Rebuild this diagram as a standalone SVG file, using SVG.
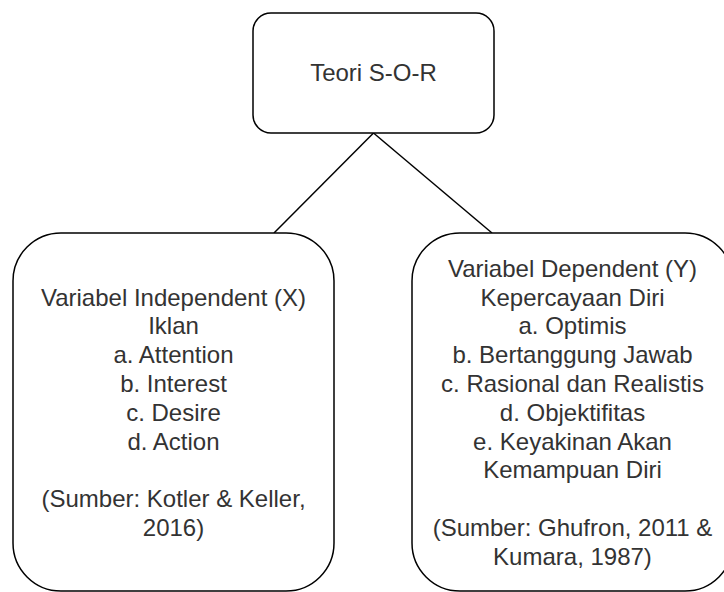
<svg xmlns="http://www.w3.org/2000/svg" width="724" height="592" viewBox="0 0 724 592">
<style>
.box{fill:#fff;stroke:#000;stroke-width:1.5}
.edge{fill:none;stroke:#000;stroke-width:1.5}
text{font-family:"Liberation Sans",Arial,sans-serif;font-size:24px;fill:#333;text-anchor:middle}
</style>
<rect width="724" height="592" fill="#fff"/>
<g id="connectors">
<line class="edge" x1="373.5" y1="133" x2="274" y2="233"/>
<line class="edge" x1="373.5" y1="133" x2="492" y2="233"/>
</g>
<g id="teori">
<rect class="box" x="253" y="13" width="241" height="120" rx="18" ry="18"/>
<text x="373.5" y="81">Teori S-O-R</text>
</g>
<g id="independent">
<rect class="box" x="13" y="233" width="321" height="358" rx="48" ry="48"/>
<text x="173.5" y="305.5">Variabel Independent (X)</text>
<text x="173.5" y="334.3">Iklan</text>
<text x="173.5" y="363.1">a. Attention</text>
<text x="173.5" y="391.9">b. Interest</text>
<text x="173.5" y="420.7">c. Desire</text>
<text x="173.5" y="449.5">d. Action</text>
<text x="173.5" y="507.1">(Sumber: Kotler &amp; Keller,</text>
<text x="173.5" y="535.9">2016)</text>
</g>
<g id="dependent">
<rect class="box" x="412" y="233" width="321" height="358" rx="48" ry="48"/>
<text x="572.5" y="276.7">Variabel Dependent (Y)</text>
<text x="572.5" y="305.5">Kepercayaan Diri</text>
<text x="572.5" y="334.3">a. Optimis</text>
<text x="572.5" y="363.1">b. Bertanggung Jawab</text>
<text x="572.5" y="391.9">c. Rasional dan Realistis</text>
<text x="572.5" y="420.7">d. Objektifitas</text>
<text x="572.5" y="449.5">e. Keyakinan Akan</text>
<text x="572.5" y="478.3">Kemampuan Diri</text>
<text x="572.5" y="535.9">(Sumber: Ghufron, 2011 &amp;</text>
<text x="572.5" y="564.7">Kumara, 1987)</text>
</g>
</svg>
